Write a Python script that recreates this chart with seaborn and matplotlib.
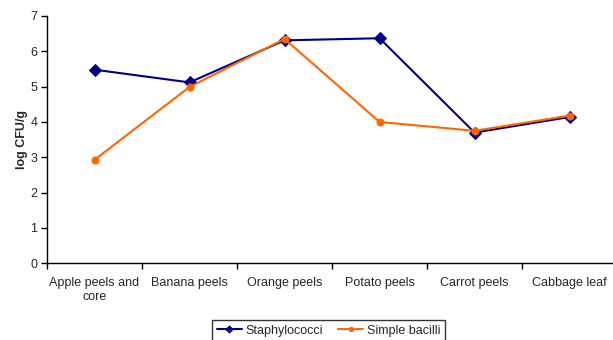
import matplotlib
matplotlib.use("Agg")
import matplotlib.pyplot as plt
import numpy as np
import pandas as pd
import seaborn as sns

# datos
categorias = ["Apple peels and\ncore", "Banana peels", "Orange peels",
              "Potato peels", "Carrot peels", "Cabbage leaf"]
staphylococci = [5.48, 5.12, 6.31, 6.37, 3.70, 4.14]
simple_bacilli = [2.93, 4.99, 6.35, 4.00, 3.75, 4.18]

sns.set_style("white")
plt.rcParams['font.family'] = ['Liberation Sans', 'DejaVu Sans']

pos = np.arange(len(categorias))
df_staph = pd.DataFrame({"x": pos, "y": staphylococci})
df_bac = pd.DataFrame({"x": pos, "y": simple_bacilli})

fig = plt.figure(figsize=(6.13, 3.4), dpi=100)
ax = fig.add_axes([0.0767, 0.2256, 0.93, 0.7274])

sns.lineplot(data=df_staph, x="x", y="y", ax=ax, color="#000080", marker="D",
             markersize=6, markeredgecolor="#000080", linewidth=1.5, label="Staphylococci")
sns.lineplot(data=df_bac, x="x", y="y", ax=ax, color="#FF6600", marker="o",
             markersize=5, markeredgecolor="#FF6600", linewidth=1.5, label="Simple bacilli")

ax.set_xlim(-0.5, len(categorias) - 0.5)
ax.set_ylim(0, 7)
ax.set_yticks(range(0, 8))
ax.set_xticks(np.arange(-0.5, len(categorias), 1.0))
ax.set_xticklabels([])
ax.set_xticks(pos, minor=True)
ax.set_xticklabels(categorias, minor=True, fontsize=9)
ax.tick_params(axis="x", which="major", length=4, width=1, color="black", direction="out", bottom=True)
ax.tick_params(axis="x", which="minor", length=0, pad=10)
ax.tick_params(axis="y", length=4, width=1, color="black", direction="out", left=True, labelsize=9, pad=3)

for s in ["top", "right"]:
    ax.spines[s].set_visible(False)
for s in ["left", "bottom"]:
    ax.spines[s].set_color("black")
    ax.spines[s].set_linewidth(1)

ax.set_xlabel("")
ax.set_ylabel("log CFU/g", fontsize=9, fontweight="bold", labelpad=2)

ax.legend_.remove()
h, l = ax.get_legend_handles_labels()
leg = fig.legend(h, l, loc="upper center", bbox_to_anchor=(0.536, 0.076), ncol=2,
                 fontsize=9, frameon=True, fancybox=False, handlelength=2.0,
                 columnspacing=1.2, handletextpad=0.3, borderpad=0.35, markerscale=0.6)
leg.get_frame().set_edgecolor("black")
leg.get_frame().set_linewidth(1)

fig.savefig("out.png", dpi=100)
